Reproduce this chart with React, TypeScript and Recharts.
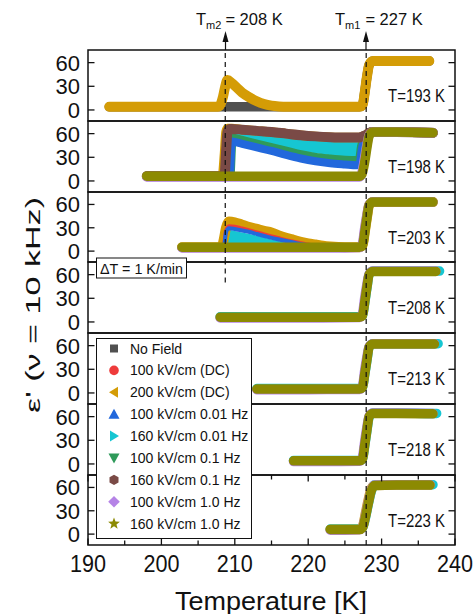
import React from 'react';
import { ComposedChart, Line, Area, XAxis, YAxis, ReferenceLine, ReferenceArea } from 'recharts';

const FONT = '"Liberation Sans", Arial, Helvetica, sans-serif';
const INK = '#111';

const COLORS: Record<string, string> = {
  noField: '#505050',
  dc100: '#ee3b3b',
  dc200: '#d49c06',
  lf100: '#2268dc',
  lf160: '#16c6d2',
  mf100: '#2f9a5a',
  mf160: '#7a4a46',
  hf100: '#b583e6',
  hf160: '#8c8a02',
};

const legendKeys = ['noField', 'dc100', 'dc200', 'lf100', 'lf160', 'mf100', 'mf160', 'hf100', 'hf160'];
const legendLabels = [
  'No Field',
  '100 kV/cm (DC)',
  '200 kV/cm (DC)',
  '100 kV/cm 0.01 Hz',
  '160 kV/cm 0.01 Hz',
  '100 kV/cm 0.1 Hz',
  '160 kV/cm 0.1 Hz',
  '100 kV/cm 1.0 Hz',
  '160 kV/cm 1.0 Hz',
];
const legendShapes = ['square', 'circle', 'triLeft', 'triUp', 'triRight', 'triDown', 'hexagon', 'diamond', 'star'];

const xTicks = [190, 195, 200, 205, 210, 215, 220, 225, 230, 235, 240];
const yTicks = [0, 30, 60];
const panelLabels = ['T=193 K', 'T=198 K', 'T=203 K', 'T=208 K', 'T=213 K', 'T=218 K', 'T=223 K'];
const TM2 = 208.7;
const TM1 = 227.9;

// ---- 193 K
const t193 = [192.9, 200, 207.7, 208.0, 208.4, 208.7, 209.0, 209.6, 210.2, 211, 212, 213, 214, 215, 216, 217, 222, 227.0, 227.4, 227.7, 228.0, 228.3, 228.8, 232, 236.5];
const gray193 = [4, 4, 4, 4, 4, 4, 4, 4, 4, 4, 4, 4, 4, 4, 4, 4, 4, 4, 6, 22, 42, 57, 62, 62, 62];
const gold193 = [4, 4, 4, 6, 17, 30, 38, 34, 29, 22, 16, 11, 7.5, 5.5, 4.5, 4, 4, 4, 6, 22, 42, 57, 62, 62, 62];

// ---- 198 K
const t198 = [198.0, 203, 207.8, 208.3, 208.6, 208.8, 209.0, 209.3, 209.6, 211, 213, 215, 217, 219, 221, 223, 225, 226.6, 227.0, 227.3, 227.7, 228.0, 228.3, 228.8, 232, 237];
const gold198 = [6, 6, 6, 6, 35, 62, 66.5, 66.5, 66.5, 65, 63.5, 62, 60, 58, 56.5, 55.5, 55, 55, 55, 56, 57.5, 59, 61, 62, 62, 61];
const brown198 = [6, 6, 6, 6, 6, 35, 62, 66, 66, 65, 63.5, 62, 60, 58, 56.5, 55.5, 55, 55, 55, 56, 57.5, 59, 61, 62, 62, 61];
const green198 = [6, 6, 6, 6, 6, 6, 6, 6, 54, 51, 46.5, 42, 37.5, 33, 29.5, 27.5, 26, 25.5, 26.5, 44, 56, 59, 61, 62, 62, 61];
const cyanLo198 = [6, 6, 6, 6, 6, 6, 6, 6, 54, 52, 49, 45.5, 41.5, 38, 35, 32.5, 31, 30, 31, 46, 56, 59, 61, 62, 62, 61];
const cyanHi198 = [6, 6, 6, 6, 6, 6, 6, 6, 66, 65, 63.5, 62, 60, 58, 56.5, 55.5, 55, 55, 55, 56, 57.5, 59, 61, 62, 62, 61];
const blue198 = [6, 6, 6, 6, 6, 6, 6, 6, 50, 47, 42.5, 38, 33, 28.5, 25, 22.5, 21, 20, 21, 40, 54, 58, 61, 62, 62, 61];
const purple198 = [5, 5, 5, 5, 5, 5, 5, 5, 5, 5, 5, 5, 5, 5, 5, 5, 5, 5, 5, 10, 30, 46, 58, 62, 62, 61];
const olive198 = [6, 6, 6, 6, 6, 6, 6, 6, 6, 6, 6, 6, 6, 6, 6, 6, 6, 6, 6, 8, 24, 42, 57, 62, 62, 61];

// ---- 203 K
const t203 = [202.8, 205, 208.2, 208.5, 208.8, 209.2, 210, 211, 212, 213, 214, 215, 216, 217, 218, 219, 220, 221, 222, 223, 225, 227.0, 227.4, 227.7, 228.0, 228.3, 228.8, 232, 237];
const gold203 = [5, 5, 5, 15, 30, 38, 37, 34, 31, 28.5, 26, 24, 20, 17, 14.5, 12, 10, 8.5, 7, 6, 5, 5, 7, 24, 43, 59, 63, 63, 63];
const cyanHi203 = [5, 5, 5, 5, 22, 27, 26, 24, 22, 20, 17.5, 15, 13, 11, 9, 7, 6, 5, 5, 5, 5, 5, 7, 24, 43, 59, 63, 63, 63];
const blue203 = [5, 5, 5, 5, 24, 29.5, 28.5, 26.5, 24.5, 22, 19.5, 17, 15, 13, 11, 9, 7.5, 6, 5, 5, 5, 5, 7, 24, 43, 59, 63, 63, 63];
const red203 = [5, 5, 5, 7, 26, 32, 31.5, 29, 26.5, 24, 21.5, 19, 16.5, 14, 12, 10, 8.5, 7, 6, 5, 5, 5, 7, 24, 43, 59, 63, 63, 63];
const purple203 = [4, 4, 4, 4, 4, 4, 4, 4, 4, 4, 4, 4, 4, 4, 4, 4, 4, 4, 4, 4, 4, 4.5, 10, 30, 47, 60, 63.5, 63.5, 63];
const olive203 = [5, 5, 5, 5, 5, 5, 5, 5, 5, 5, 5, 5, 5, 5, 5, 5, 5, 5, 5, 5, 5, 5, 7, 24, 43, 59, 63, 63, 63];

// ---- 208 K
const t208 = [208.0, 215, 222, 227.0, 227.4, 227.7, 228.0, 228.3, 228.8, 232, 237.4, 237.9];
const cyan208 = [6.5, 6.5, 6.5, 6.5, 8, 24, 43, 60, 64.5, 64.5, 64.5, 64.5];
const purple208 = [5, 5, 5, 5.5, 11, 31, 48, 61, 64.5, 64.5, 64.5, null];
const olive208 = [6, 6, 6, 6, 8, 25, 44, 60, 64, 64, 64, null];

// ---- 213 K
const t213 = [213.0, 220, 227.0, 227.4, 227.7, 228.0, 228.3, 228.8, 232, 237.2, 237.7];
const cyan213 = [5.5, 5.5, 5.5, 7, 23, 41, 58, 62.5, 62.5, 62.5, 62.5];
const purple213 = [4.2, 4.2, 4.5, 9, 29, 46, 59, 62.5, 62.5, 62.5, null];
const olive213 = [5, 5, 5, 7, 24, 42, 58, 62, 62, 62, null];

// ---- 218 K
const t218 = [218.0, 222, 227.0, 227.4, 227.7, 228.0, 228.3, 228.8, 232, 237.0, 237.5];
const cyan218 = [4.5, 4.5, 4.5, 6, 23, 42, 59, 64.5, 64.5, 64, 64];
const purple218 = [3, 3, 3.5, 9, 29, 47, 61, 64.5, 64.5, 64, null];
const olive218 = [4, 4, 4, 6, 24, 43, 60, 64, 64, 63.5, null];

// ---- 223 K
const t223 = [223.0, 225, 227.0, 227.4, 227.8, 228.2, 228.6, 229.0, 232, 236.6, 237.0];
const cyan223 = [6.5, 6.5, 6.5, 8, 21, 39, 55, 63, 63.5, 63.5, 63.5];
const gold223 = [6, 6, 6, 10, 27, 45, 59, 62.5, 63, 63, null];
const purple223 = [5, 5, 5.5, 9, 24, 42, 57, 63, 63.5, 63.5, null];
const olive223 = [6, 6, 6, 8, 22, 40, 56, 62.5, 63, 63, null];

type Series =
  | { kind: 'line'; name: string; values: (number | null)[]; width?: number }
  | { kind: 'band'; name: string; lo: number[]; hi: number[] };

interface PanelDef {
  t: number[];
  series: Series[];
  tm2: 'full' | 'part' | 'none';
}

const panels: PanelDef[] = [
  {
    t: t193,
    tm2: 'full',
    series: [
      { kind: 'line', name: 'noField', values: gray193 },
      { kind: 'line', name: 'dc200', values: gold193, width: 10 },
    ],
  },
  {
    t: t198,
    tm2: 'full',
    series: [
      { kind: 'line', name: 'mf100', values: green198 },
      { kind: 'band', name: 'lf160', lo: cyanLo198, hi: cyanHi198 },
      { kind: 'line', name: 'lf100', values: blue198, width: 8 },
      { kind: 'line', name: 'dc200', values: gold198 },
      { kind: 'line', name: 'mf160', values: brown198, width: 10 },
      { kind: 'line', name: 'hf100', values: purple198 },
      { kind: 'line', name: 'hf160', values: olive198 },
    ],
  },
  {
    t: t203,
    tm2: 'full',
    series: [
      { kind: 'line', name: 'dc200', values: gold203, width: 10 },
      { kind: 'band', name: 'lf160', lo: olive203, hi: cyanHi203 },
      { kind: 'line', name: 'dc100', values: red203, width: 4 },
      { kind: 'line', name: 'lf100', values: blue203, width: 4 },
      { kind: 'line', name: 'hf100', values: purple203 },
      { kind: 'line', name: 'hf160', values: olive203 },
    ],
  },
  {
    t: t208,
    tm2: 'part',
    series: [
      { kind: 'line', name: 'lf160', values: cyan208 },
      { kind: 'line', name: 'hf100', values: purple208 },
      { kind: 'line', name: 'hf160', values: olive208 },
    ],
  },
  {
    t: t213,
    tm2: 'none',
    series: [
      { kind: 'line', name: 'lf160', values: cyan213 },
      { kind: 'line', name: 'hf100', values: purple213 },
      { kind: 'line', name: 'hf160', values: olive213 },
    ],
  },
  {
    t: t218,
    tm2: 'none',
    series: [
      { kind: 'line', name: 'lf160', values: cyan218 },
      { kind: 'line', name: 'hf100', values: purple218 },
      { kind: 'line', name: 'hf160', values: olive218 },
    ],
  },
  {
    t: t223,
    tm2: 'none',
    series: [
      { kind: 'line', name: 'lf160', values: cyan223 },
      { kind: 'line', name: 'dc200', values: gold223 },
      { kind: 'line', name: 'hf100', values: purple223 },
      { kind: 'line', name: 'hf160', values: olive223 },
    ],
  },
];

const PANEL_TOPS = [50, 121, 192, 262, 333, 404, 475, 545];
const CHART_W = 475;
const PLOT_L = 88;
const PLOT_R = 455;
const X_LABEL_H = 50;
const PAD = 12; // room above/below each panel so tick labels are not clipped

const Panel = ({ def, index }: { def: PanelDef; index: number }) => {
  const top = PANEL_TOPS[index];
  const plotH = PANEL_TOPS[index + 1] - top;
  const isLast = index === panels.length - 1;
  const height = PAD + plotH + (isLast ? X_LABEL_H : PAD);

  const rows = def.t.map((T, i) => {
    const row: Record<string, any> = { T };
    def.series.forEach((s, j) => {
      row[`s${j}`] = s.kind === 'band' ? [s.lo[i], s.hi[i]] : s.values[i];
    });
    return row;
  });

  const XTick = (props: any) => {
    const { x, payload } = props;
    const v = payload.value;
    const len = v % 10 === 0 ? 6.5 : 4.5;
    return (
      <g>
        <line x1={x} x2={x} y1={PAD} y2={PAD + len} stroke={INK} strokeWidth={1.3} />
        <line x1={x} x2={x} y1={PAD + plotH} y2={PAD + plotH - len} stroke={INK} strokeWidth={1.3} />
        {isLast && v % 10 === 0 && (
          <text x={x} y={PAD + plotH + 27} textAnchor="middle" fontSize={23} fontFamily={FONT} fill={INK}
            textLength={36} lengthAdjust="spacingAndGlyphs">
            {v}
          </text>
        )}
      </g>
    );
  };

  const YTick = (props: any) => {
    const { y, payload } = props;
    return (
      <g>
        <line x1={PLOT_L} x2={PLOT_L + 6.5} y1={y} y2={y} stroke={INK} strokeWidth={1.3} />
        <line x1={PLOT_R - 6.5} x2={PLOT_R} y1={y} y2={y} stroke={INK} strokeWidth={1.3} />
        <text x={80} y={y + 8} textAnchor="end" fontSize={22} fontFamily={FONT} fill={INK}>
          {payload.value}
        </text>
      </g>
    );
  };

  return (
    <div style={{ position: 'absolute', left: 0, top: top - PAD }}>
      <ComposedChart width={CHART_W} height={height} data={rows}
        margin={{ top: PAD, right: CHART_W - PLOT_R, bottom: isLast ? 0 : PAD, left: 0 }}>
        <XAxis dataKey="T" type="number" domain={[190, 240]} ticks={xTicks} interval={0}
          allowDataOverflow height={isLast ? X_LABEL_H : 0} axisLine={false} tickLine={false} tick={XTick} />
        <YAxis type="number" domain={[-14, 76]} ticks={yTicks} interval={0} allowDataOverflow
          width={PLOT_L} axisLine={false} tickLine={false} tick={YTick} />
        {def.series.map((s, j) =>
          s.kind === 'band' ? (
            <Area key={j} dataKey={`s${j}`} type="monotone" stroke="none" fill={COLORS[s.name]}
              fillOpacity={1} dot={false} activeDot={false} isAnimationActive={false} />
          ) : (
            <Line key={j} dataKey={`s${j}`} type="monotone" stroke={COLORS[s.name]}
              strokeWidth={s.width ?? 9.5} strokeLinecap="round" strokeLinejoin="round"
              dot={false} activeDot={false} isAnimationActive={false} />
          )
        )}
        {def.tm2 === 'full' && (
          <ReferenceLine x={TM2} stroke={INK} strokeWidth={1.2} strokeDasharray="5 4" />
        )}
        {def.tm2 === 'part' && (
          <ReferenceLine segment={[{ x: TM2, y: 50 }, { x: TM2, y: 76 }]} stroke={INK}
            strokeWidth={1.2} strokeDasharray="5 4" />
        )}
        <ReferenceLine x={TM1} stroke={INK} strokeWidth={1.2} strokeDasharray="5 4" />
        <ReferenceArea x1={190} x2={240} y1={-14} y2={76} fill="none" fillOpacity={0}
          stroke={INK} strokeWidth={1.5} ifOverflow="visible" />
      </ComposedChart>
    </div>
  );
};

const Marker = ({ shape, x, y, color }: { shape: string; x: number; y: number; color: string }) => {
  switch (shape) {
    case 'square':
      return <rect x={x - 4} y={y - 4} width={8} height={8} fill={color} />;
    case 'circle':
      return <circle cx={x} cy={y} r={4.8} fill={color} />;
    case 'triLeft':
      return <polygon points={`${x - 5},${y} ${x + 4},${y - 5.5} ${x + 4},${y + 5.5}`} fill={color} />;
    case 'triUp':
      return <polygon points={`${x},${y - 5.5} ${x - 5.5},${y + 4.5} ${x + 5.5},${y + 4.5}`} fill={color} />;
    case 'triRight':
      return <polygon points={`${x + 5},${y} ${x - 4},${y - 5.5} ${x - 4},${y + 5.5}`} fill={color} />;
    case 'triDown':
      return <polygon points={`${x},${y + 5.5} ${x - 5.5},${y - 4.5} ${x + 5.5},${y - 4.5}`} fill={color} />;
    case 'hexagon': {
      const pts = [0, 1, 2, 3, 4, 5]
        .map((k) => {
          const a = (Math.PI / 3) * k + Math.PI / 6;
          return `${x + 5.2 * Math.cos(a)},${y + 5.2 * Math.sin(a)}`;
        })
        .join(' ');
      return <polygon points={pts} fill={color} />;
    }
    case 'diamond':
      return <polygon points={`${x},${y - 5.8} ${x + 5.8},${y} ${x},${y + 5.8} ${x - 5.8},${y}`} fill={color} />;
    case 'star': {
      const pts = Array.from({ length: 10 })
        .map((_, k) => {
          const r = k % 2 === 0 ? 6.2 : 2.6;
          const a = -Math.PI / 2 + (Math.PI / 5) * k;
          return `${x + r * Math.cos(a)},${y + r * Math.sin(a)}`;
        })
        .join(' ');
      return <polygon points={pts} fill={color} />;
    }
    default:
      return null;
  }
};

const Arrow = ({ x }: { x: number }) => (
  <g>
    <polygon points={`${x},31 ${x - 3},42 ${x + 3},42`} fill={INK} />
    <line x1={x} x2={x} y1={41} y2={50} stroke={INK} strokeWidth={1.2} />
  </g>
);

const Overlay = () => {
  const legendTop = 348.5;
  const legendStep = 21.9;
  return (
    <svg width={475} height={614} style={{ position: 'absolute', left: 0, top: 0, pointerEvents: 'none' }}
      fontFamily={FONT}>
      {/* melting temperatures */}
      <text x={196} y={25} fontSize={16.5} fill={INK}>
        T<tspan fontSize={11} dy={4}>m2</tspan>
        <tspan dy={-4} dx={4}>= 208 K</tspan>
      </text>
      <text x={335} y={25} fontSize={16.5} fill={INK}>
        T<tspan fontSize={11} dy={4}>m1</tspan>
        <tspan dy={-4} dx={5}>= 227 K</tspan>
      </text>
      <Arrow x={225.5} />
      <Arrow x={366} />

      {panelLabels.map((lab, i) => (
        <text key={lab} x={445} y={PANEL_TOPS[i] + 52} textAnchor="end" fontSize={17.5} fill={INK}
          textLength={57} lengthAdjust="spacingAndGlyphs">
          {lab}
        </text>
      ))}

      {/* heating rate */}
      <rect x={96.5} y={258} width={90} height={20} fill="#fff" stroke={INK} strokeWidth={1} />
      <text x={100} y={273.5} fontSize={14.5} fill={INK} textLength={83} lengthAdjust="spacingAndGlyphs">
        ΔT = 1 K/min
      </text>

      {/* legend */}
      <rect x={96.5} y={338.5} width={155} height={200} fill="#fff" stroke={INK} strokeWidth={1} />
      {legendKeys.map((k, i) => {
        const cy = legendTop + i * legendStep;
        return (
          <g key={k}>
            <Marker shape={legendShapes[i]} x={114} y={cy} color={COLORS[k]} />
            <text x={130} y={cy + 5} fontSize={14} fill={INK}>
              {legendLabels[i]}
            </text>
          </g>
        );
      })}

      {/* axis titles */}
      <text transform="translate(39.5,305) rotate(-90)" textAnchor="middle" fontSize={20} fill={INK}
        textLength={216} lengthAdjust="spacingAndGlyphs">
        ε' (ν = 10 kHz)
      </text>
      <text x={271} y={610} textAnchor="middle" fontSize={25} fill={INK} textLength={192}
        lengthAdjust="spacingAndGlyphs">
        Temperature [K]
      </text>
    </svg>
  );
};

export default function App() {
  return (
    <div style={{ position: 'absolute', left: 0, top: 0, width: 475, height: 614, background: '#fff', overflow: 'hidden' }}>
      {panels.map((def, i) => (
        <Panel key={i} def={def} index={i} />
      ))}
      <Overlay />
    </div>
  );
}
